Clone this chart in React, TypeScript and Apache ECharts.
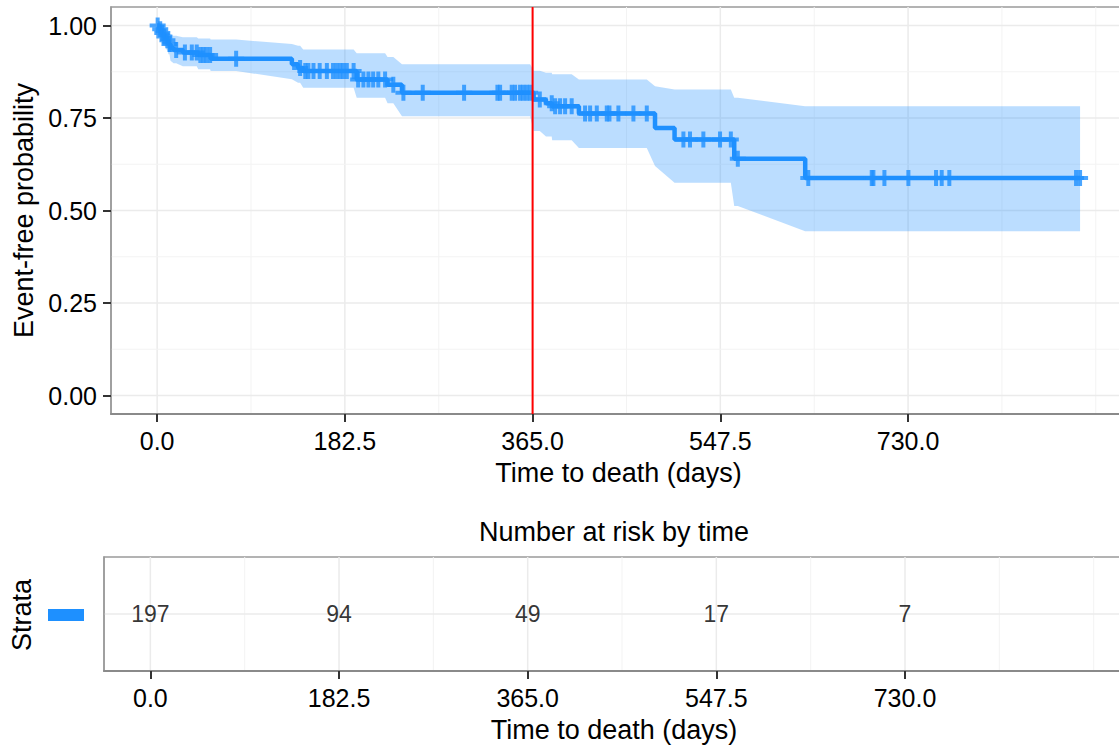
import React, { useEffect, useRef } from "react";
import * as echarts from "echarts";

// Kaplan-Meier steps (days, survival, 95% CI)
const eventTimes = [2, 4, 6, 9, 11, 13, 16, 25, 40, 52, 131, 137, 142, 194, 224, 238, 366, 378, 384, 410, 484, 503, 561, 630];
const survival = [0.99, 0.98, 0.97, 0.96, 0.95, 0.94, 0.934, 0.927, 0.92, 0.91, 0.895, 0.885, 0.877, 0.854, 0.84, 0.818, 0.8, 0.79, 0.782, 0.762, 0.723, 0.692, 0.64, 0.588];
const upperCI = [1.0, 0.998, 0.993, 0.986, 0.98, 0.975, 0.972, 0.968, 0.965, 0.962, 0.95, 0.945, 0.935, 0.925, 0.915, 0.895, 0.878, 0.872, 0.868, 0.854, 0.836, 0.827, 0.805, 0.782];
const lowerCI = [0.972, 0.958, 0.946, 0.935, 0.922, 0.905, 0.898, 0.89, 0.882, 0.877, 0.855, 0.845, 0.832, 0.805, 0.79, 0.755, 0.715, 0.7, 0.69, 0.669, 0.62, 0.575, 0.512, 0.444];
const censorTimes = [
  0.5, 3, 5, 7, 10, 12, 18.5, 27, 33.7, 38.5, 42, 45, 48, 51.5, 76.8,
  139, 144, 147, 152, 158, 165, 171, 174.6, 178, 181, 184.4, 191, 195.4, 200.5, 205.4, 210, 215, 221.6, 229.6, 239.4, 258.2,
  298.4, 330.8, 333.4, 344.7, 348, 352.8, 356, 359.3, 362.6, 372, 383.6, 386.9, 391.7, 396.6, 403,
  416, 420.9, 427.4, 437.1, 439.7, 448.4, 463, 476, 511.6, 518, 531, 547.2, 557.7, 564.5,
  633, 694.7, 696.3, 707, 730.3, 757.2, 762.7, 770.1, 893.3, 897.2,
];
const lastTime = 897.2;

const riskTimes = [0, 182.5, 365, 547.5, 730];
const riskCounts = [197, 94, 49, 17, 7];

const xTicks = [0, 182.5, 365, 547.5, 730];
const xMinor = [91.25, 273.75, 456.25, 638.75, 821.25, 912.5];
const yTicks = [0, 0.25, 0.5, 0.75, 1];
const yMinor = [0.125, 0.375, 0.625, 0.875];
const cutoffDay = 365;

const BLUE = "#1E90FF";
const FONT = "'Liberation Sans', Arial, sans-serif";

function stepAt(t: number, arr: number[], init: number) {
  let v = init;
  for (let i = 0; i < eventTimes.length; i++) if (eventTimes[i] <= t) v = arr[i];
  return v;
}

function vLines(gi: number, values: number[], color: string, width: number, z: number) {
  return {
    type: "custom", xAxisIndex: gi, yAxisIndex: gi, silent: true, z,
    data: values.map((v) => [v, 0]),
    renderItem: (params: any, api: any) => {
      const cs = params.coordSys;
      const x = api.coord([api.value(0), 0])[0];
      return { type: "line", shape: { x1: x, y1: cs.y, x2: x, y2: cs.y + cs.height }, style: { stroke: color, lineWidth: width } };
    },
  };
}
function hLines(gi: number, values: number[], color: string, width: number, z: number) {
  return {
    type: "custom", xAxisIndex: gi, yAxisIndex: gi, silent: true, z,
    data: values.map((v) => [0, v]),
    renderItem: (params: any, api: any) => {
      const cs = params.coordSys;
      const y = api.coord([0, api.value(1)])[1];
      return { type: "line", shape: { x1: cs.x, y1: y, x2: cs.x + cs.width, y2: y }, style: { stroke: color, lineWidth: width } };
    },
  };
}

export default function App() {
  const ref = useRef<HTMLDivElement>(null);
  useEffect(() => {
    if (!ref.current) return;
    const chart = echarts.init(ref.current, undefined, { renderer: "svg" });

    const lineData = [[0, 1], ...eventTimes.map((t, i) => [t, survival[i]]), [lastTime, survival[survival.length - 1]]];
    const censorData = censorTimes.map((t) => [t, stepAt(t, survival, 1)]);
    const bandTimes = Array.from(new Set([0, ...eventTimes, ...censorTimes, lastTime])).sort((a, b) => a - b);

    const axisCommonX = (gi: number) => ({
      type: "value", gridIndex: gi, min: -44.85, max: 941.85,
      axisLine: { show: true, onZero: false, lineStyle: { color: "#8a8a8a", width: 2 } },
      axisTick: { show: true, customValues: xTicks, length: 8, lineStyle: { color: "#333", width: 2 } },
      axisLabel: { customValues: xTicks, formatter: (v: number) => v.toFixed(1), fontSize: 25, color: "#000", margin: 14, fontFamily: FONT },
      splitLine: { show: false },
      name: "Time to death (days)", nameLocation: "middle", nameGap: 45,
      nameTextStyle: { fontSize: 27, color: "#000", fontFamily: FONT },
    });

    const option: any = {
      animation: false,
      textStyle: { fontFamily: FONT },
      grid: [
        { left: 111, top: 7, width: 1015, height: 407, show: true, borderColor: "#9a9a9a", borderWidth: 1.5, containLabel: false },
        { left: 104, top: 557, width: 1020, height: 114, show: true, borderColor: "#9a9a9a", borderWidth: 1.5, containLabel: false },
      ],
      xAxis: [axisCommonX(0), axisCommonX(1)],
      yAxis: [
        {
          type: "value", gridIndex: 0, min: -0.05, max: 1.05,
          axisLine: { show: true, onZero: false, lineStyle: { color: "#9a9a9a", width: 1.5 } },
          axisTick: { show: true, customValues: yTicks, length: 8, lineStyle: { color: "#333", width: 2 } },
          axisLabel: { customValues: yTicks, formatter: (v: number) => v.toFixed(2), fontSize: 25, color: "#000", margin: 14, fontFamily: FONT },
          splitLine: { show: false },
          name: "Event-free probability", nameLocation: "middle", nameGap: 72, nameRotate: 90,
          nameTextStyle: { fontSize: 27, color: "#000", fontFamily: FONT },
        },
        {
          type: "value", gridIndex: 1, min: -1, max: 1,
          axisLine: { show: true, onZero: false, lineStyle: { color: "#9a9a9a", width: 1.5 } },
          axisTick: { show: false }, axisLabel: { show: false }, splitLine: { show: false },
        },
      ],
      graphic: [
        { type: "text", x: 614, y: 532, style: { text: "Number at risk by time", fontSize: 27, fill: "#000", fontFamily: FONT, textAlign: "center", textVerticalAlign: "middle" } },
        { type: "text", x: 22, y: 615, rotation: Math.PI / 2, style: { text: "Strata", fontSize: 27, fill: "#000", fontFamily: FONT, textAlign: "center", textVerticalAlign: "middle" } },
        { type: "rect", shape: { x: 48, y: 609, width: 36, height: 12 }, style: { fill: BLUE } },
      ],
      series: [
        vLines(0, xMinor, "#F3F3F3", 1, 0),
        vLines(0, xTicks, "#EBEBEB", 1.5, 0),
        hLines(0, yMinor, "#F3F3F3", 1, 0),
        hLines(0, yTicks, "#EBEBEB", 1.5, 0),
        vLines(1, xMinor, "#F3F3F3", 1, 0),
        vLines(1, xTicks, "#EBEBEB", 1.5, 0),
        hLines(1, [0], "#EBEBEB", 1.5, 0),
        {
          type: "custom", xAxisIndex: 0, yAxisIndex: 0, silent: true, z: 1, data: [[0, 0]],
          renderItem: (_p: any, api: any) => {
            const up = bandTimes.map((t) => api.coord([t, stepAt(t, upperCI, 1)]));
            const lo = bandTimes.map((t) => api.coord([t, stepAt(t, lowerCI, 1)])).reverse();
            return { type: "polygon", shape: { points: up.concat(lo) }, style: { fill: "rgba(30,144,255,0.3)" } };
          },
        },
        {
          type: "line", xAxisIndex: 0, yAxisIndex: 0, step: "end", data: lineData, showSymbol: false, z: 2,
          lineStyle: { color: BLUE, width: 4.5 }, itemStyle: { color: BLUE },
        },
        {
          type: "scatter", xAxisIndex: 0, yAxisIndex: 0, data: censorData, z: 3,
          symbol: "path://M6,0H10V6H16V10H10V16H6V10H0V6H6Z", symbolSize: 16, itemStyle: { color: BLUE },
        },
        {
          type: "custom", xAxisIndex: 0, yAxisIndex: 0, silent: true, z: 5, data: [[cutoffDay, 0]],
          renderItem: (params: any, api: any) => {
            const cs = params.coordSys;
            const x = api.coord([api.value(0), 0])[0];
            return { type: "line", shape: { x1: x, y1: cs.y, x2: x, y2: cs.y + cs.height }, style: { stroke: "#FF0000", lineWidth: 2 } };
          },
        },
        {
          type: "scatter", xAxisIndex: 1, yAxisIndex: 1, z: 3,
          data: riskTimes.map((t, i) => [t, 0, riskCounts[i]]),
          symbolSize: 1, itemStyle: { color: "rgba(0,0,0,0)" },
          label: { show: true, position: "inside", formatter: (p: any) => String(p.value[2]), fontSize: 23, color: "#000", fontFamily: FONT },
        },
      ],
    };
    chart.setOption(option);
    return () => chart.dispose();
  }, []);
  return <div ref={ref} style={{ position: "fixed", left: 0, top: 0, width: 1140, height: 747, background: "#fff" }} />;
}
